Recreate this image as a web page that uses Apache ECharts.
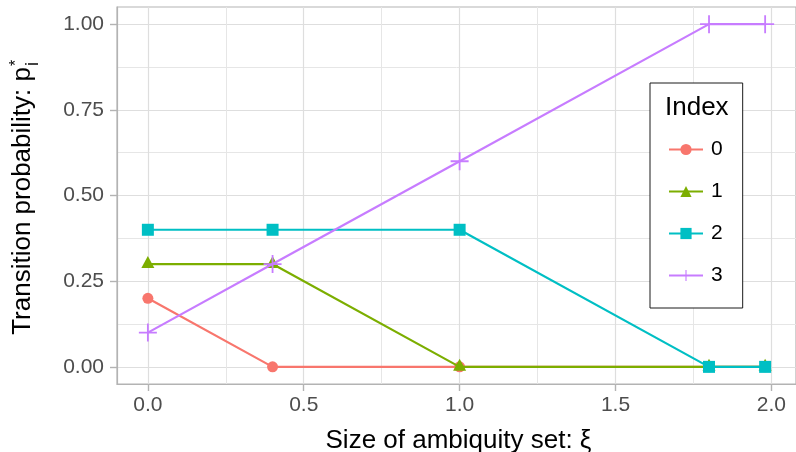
<!DOCTYPE html>
<html>
<head>
<meta charset="utf-8">
<script src="https://cdn.jsdelivr.net/npm/echarts@6/dist/echarts.min.js"></script>
<style>html,body{margin:0;padding:0;background:#fff;}#c{width:796px;height:452px;}</style>
</head>
<body>
<div id="c"></div>
<script>
// ---- data ----
const xValues = [0, 0.4, 1.0, 1.8, 1.98];
const seriesNames = ['0', '1', '2', '3'];
const p0 = [0.2, 0, 0, 0, 0];
const p1 = [0.3, 0.3, 0, 0, 0];
const p2 = [0.4, 0.4, 0.4, 0, 0];
const p3 = [0.1, 0.3, 0.6, 1.0, 1.0];
const xTicks = [0, 0.5, 1.0, 1.5, 2.0];
const xMinorTicks = [0.25, 0.75, 1.25, 1.75];
const yTicks = [0, 0.25, 0.5, 0.75, 1.0];
const yMinorTicks = [0.125, 0.375, 0.625, 0.875];
const xTitle = 'Size of ambiquity set: ξ';
const yTitle = 'Transition probability: p';
const legendTitle = 'Index';

// ---- styles ----
const FONT = '"Liberation Sans", Arial, sans-serif';
const colors = ['#F8766D', '#7CAE00', '#00BFC4', '#C77CFF'];
const PLUS = 'path://M9,0h2v9h9v2h-9v9h-2v-9h-9v-2h9z';
const symbols = ['circle', 'triangle', 'rect', PLUS];
const symbolSizes = [11, [13, 12], 12, 18];
const symbolOffsets = [[0, 0], [0, -2], [0, 0], [0, 0]];
const allValues = [p0, p1, p2, p3];

const xMin = -0.099, xMax = 2.079;
const yMin = -0.05, yMax = 1.05;
const BORDER = '#B3B3B3';

const chart = echarts.init(document.getElementById('c'), null, {renderer: 'canvas'});

const series = allValues.map((vals, i) => ({
  name: seriesNames[i],
  type: 'line',
  xAxisIndex: 0,
  yAxisIndex: 0,
  data: xValues.map((x, j) => [x, vals[j]]),
  symbol: symbols[i],
  symbolSize: symbolSizes[i],
  symbolOffset: symbolOffsets[i],
  showAllSymbol: true,
  color: colors[i],
  lineStyle: {width: 2.2, color: colors[i]},
  itemStyle: {color: colors[i]},
  emphasis: {disabled: true},
  animation: false,
  z: 3 + i
}));

const option = {
  animation: false,
  textStyle: {fontFamily: FONT},
  grid: {
    left: 117, top: 7, width: 681, height: 377,
    show: true, backgroundColor: '#ffffff',
    borderColor: BORDER, borderWidth: 1.2,
    containLabel: false
  },
  xAxis: [
    {
      type: 'value', min: xMin, max: xMax, position: 'bottom',
      axisLine: {show: true, onZero: false, lineStyle: {color: BORDER, width: 1.2}},
      axisTick: {show: true, inside: false, length: 7, customValues: xTicks, lineStyle: {color: BORDER, width: 1.4}},
      axisLabel: {show: true, customValues: xTicks, formatter: v => v.toFixed(1),
        color: '#4D4D4D', fontSize: 21, fontFamily: FONT, margin: 11},
      splitLine: {show: true, lineStyle: {color: '#DEDEDE', width: 1.2}},
      minorSplitLine: {show: false}
    },
    {
      type: 'value', min: xMin, max: xMax, position: 'top',
      axisLine: {show: false, onZero: false},
      axisTick: {show: false, customValues: xMinorTicks},
      axisLabel: {show: false, customValues: xMinorTicks},
      splitLine: {show: true, lineStyle: {color: '#E6E6E6', width: 1}}
    }
  ],
  yAxis: [
    {
      type: 'value', min: yMin, max: yMax, position: 'left',
      axisLine: {show: true, onZero: false, lineStyle: {color: BORDER, width: 1.2}},
      axisTick: {show: true, inside: false, length: 7, customValues: yTicks, lineStyle: {color: BORDER, width: 1.4}},
      axisLabel: {show: true, customValues: yTicks, formatter: v => v.toFixed(2),
        color: '#4D4D4D', fontSize: 21, fontFamily: FONT, margin: 13},
      splitLine: {show: true, lineStyle: {color: '#DEDEDE', width: 1.2}}
    },
    {
      type: 'value', min: yMin, max: yMax, position: 'right',
      axisLine: {show: false, onZero: false},
      axisTick: {show: false, customValues: yMinorTicks},
      axisLabel: {show: false, customValues: yMinorTicks},
      splitLine: {show: true, lineStyle: {color: '#E6E6E6', width: 1}}
    }
  ],
  legend: {
    show: true,
    orient: 'vertical',
    left: 650, top: 83,
    padding: [56, 20, 22, 18],
    itemWidth: 34, itemHeight: 14, itemGap: 21,
    backgroundColor: '#ffffff',
    borderColor: '#1a1a1a', borderWidth: 1,
    lineStyle: {width: 2},
    textStyle: {fontSize: 21, color: '#000', fontFamily: FONT, padding: [0, 0, 0, 3]},
    data: seriesNames,
    selectedMode: false,
    z: 10
  },
  graphic: [
    {type: 'text', x: 458.5, y: 441, z: 100,
      style: {text: xTitle, fill: '#000', fontSize: 26, fontFamily: FONT,
        textAlign: 'center', textVerticalAlign: 'middle', align: 'center', verticalAlign: 'middle'}},
    {type: 'text', x: 23, y: 67, rotation: Math.PI / 2, z: 100,
      style: {text: yTitle, fill: '#000', fontSize: 26, fontFamily: FONT,
        textAlign: 'right', textVerticalAlign: 'middle', align: 'right', verticalAlign: 'middle'}},
    {type: 'text', x: 33, y: 66, rotation: Math.PI / 2, z: 100,
      style: {text: 'i', fill: '#000', fontSize: 18, fontFamily: FONT,
        textAlign: 'left', textVerticalAlign: 'middle', align: 'left', verticalAlign: 'middle'}},
    {type: 'text', x: 16.5, y: 66, rotation: Math.PI / 2, z: 100,
      style: {text: '*', fill: '#000', fontSize: 16, fontFamily: FONT,
        textAlign: 'left', textVerticalAlign: 'middle', align: 'left', verticalAlign: 'middle'}},
    {type: 'text', x: 665, y: 108, z: 100,
      style: {text: legendTitle, fill: '#000', fontSize: 26, fontFamily: FONT,
        textAlign: 'left', textVerticalAlign: 'middle', align: 'left', verticalAlign: 'middle'}}
  ],
  series: series
};

chart.setOption(option);
</script>
</body>
</html>
